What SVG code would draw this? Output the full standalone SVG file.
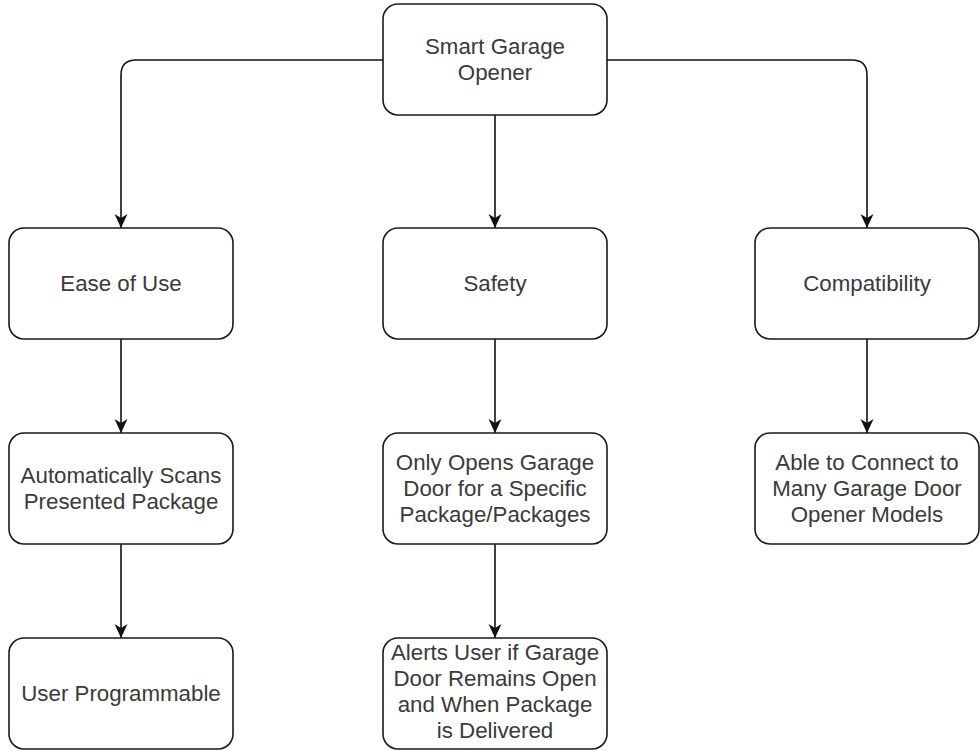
<svg xmlns="http://www.w3.org/2000/svg" width="980" height="751" viewBox="0 0 980 751">
  <style>
    .box { fill: #ffffff; stroke: #1a1a1a; stroke-width: 1.6; }
    .lbl { font-family: "Liberation Sans", Arial, sans-serif; font-size: 22.3px; fill: #3a3a3a; text-anchor: middle; }
    .edge { fill: none; stroke: #111111; stroke-width: 1.6; marker-end: url(#arrow); }
  </style>
  <defs>
    <marker id="arrow" markerUnits="userSpaceOnUse" viewBox="0 0 14 14" markerWidth="14" markerHeight="14" refX="14" refY="7" orient="auto">
      <path d="M0,0.5 L14,7 L0,13.5 L4,7 z" fill="#111111"/>
    </marker>
  </defs>
  <rect width="980" height="751" fill="#ffffff"/>

  <g id="connectors">
    <path class="edge" d="M383 60 H136 Q121 60 121 75 V228"/>
    <path class="edge" d="M495 115 V228"/>
    <path class="edge" d="M607 60 H852 Q867 60 867 75 V228"/>
    <path class="edge" d="M121 339 V433"/>
    <path class="edge" d="M121 544 V638"/>
    <path class="edge" d="M495 339 V433"/>
    <path class="edge" d="M495 544 V638"/>
    <path class="edge" d="M867 339 V433"/>
  </g>

  <g id="smart-garage-opener">
    <rect class="box" x="383" y="4" width="224" height="111" rx="15"/>
    <text class="lbl" x="495" y="54">Smart Garage</text>
    <text class="lbl" x="495" y="80">Opener</text>
  </g>

  <g id="ease-of-use">
    <rect class="box" x="9" y="228" width="224" height="111" rx="15"/>
    <text class="lbl" x="121" y="291">Ease of Use</text>
  </g>

  <g id="safety">
    <rect class="box" x="383" y="228" width="224" height="111" rx="15"/>
    <text class="lbl" x="495" y="291">Safety</text>
  </g>

  <g id="compatibility">
    <rect class="box" x="755" y="228" width="224" height="111" rx="15"/>
    <text class="lbl" x="867" y="291">Compatibility</text>
  </g>

  <g id="auto-scan">
    <rect class="box" x="9" y="433" width="224" height="111" rx="15"/>
    <text class="lbl" x="121" y="483">Automatically Scans</text>
    <text class="lbl" x="121" y="509">Presented Package</text>
  </g>

  <g id="specific-package">
    <rect class="box" x="383" y="433" width="224" height="111" rx="15"/>
    <text class="lbl" x="495" y="470">Only Opens Garage</text>
    <text class="lbl" x="495" y="496">Door for a Specific</text>
    <text class="lbl" x="495" y="522">Package/Packages</text>
  </g>

  <g id="many-openers">
    <rect class="box" x="755" y="433" width="224" height="111" rx="15"/>
    <text class="lbl" x="867" y="470">Able to Connect to</text>
    <text class="lbl" x="867" y="496">Many Garage Door</text>
    <text class="lbl" x="867" y="522">Opener Models</text>
  </g>

  <g id="user-programmable">
    <rect class="box" x="9" y="638" width="224" height="111" rx="15"/>
    <text class="lbl" x="121" y="701">User Programmable</text>
  </g>

  <g id="alerts">
    <rect class="box" x="383" y="638" width="224" height="111" rx="15"/>
    <text class="lbl" x="495" y="660">Alerts User if Garage</text>
    <text class="lbl" x="495" y="686">Door Remains Open</text>
    <text class="lbl" x="495" y="712">and When Package</text>
    <text class="lbl" x="495" y="738">is Delivered</text>
  </g>
</svg>
